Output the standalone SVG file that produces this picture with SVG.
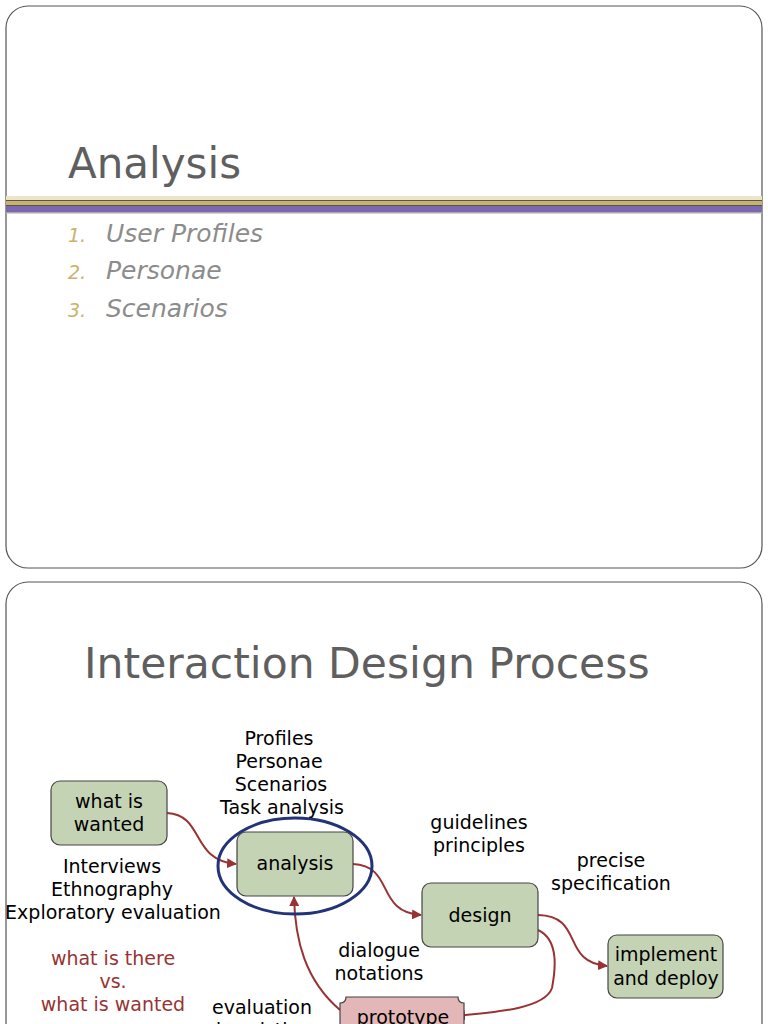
<svg xmlns="http://www.w3.org/2000/svg" width="768" height="1024" viewBox="0 0 768 1024">
<defs>
<style>
.slide{fill:#fff;stroke:#555;stroke-width:1.2}
.t{font-family:"DejaVu Sans",Verdana,sans-serif;font-size:19px;fill:#000;text-anchor:middle}
.red{fill:#993333}
.box{fill:#c5d3b5;stroke:#444;stroke-width:1.2}
.con{fill:none;stroke:#993333;stroke-width:2;marker-end:url(#a)}
.li{font-family:"DejaVu Sans",sans-serif;font-size:25px;font-style:italic;fill:#8c8c8c}
.num{font-family:"DejaVu Sans",sans-serif;font-size:19px;font-style:italic;fill:#c9b26a}
</style>
<marker id="a" viewBox="0 0 10 10" refX="9" refY="5" markerWidth="5" markerHeight="5" orient="auto"><path d="M0,0L10,5L0,10z" fill="#993333"/></marker>
</defs>
<rect width="768" height="1024" fill="#fff"/>
<rect class="slide" x="6" y="6" width="756" height="562" rx="22"/>
<rect class="slide" x="6" y="582" width="756" height="480" rx="22"/>
<g id="slide1">
<text x="68" y="178" font-family="DejaVu Sans,sans-serif" font-size="42" fill="#5f5f5f">Analysis</text>
<rect x="6" y="196" width="756" height="4" fill="#ece3c8"/>
<rect x="6" y="200" width="756" height="1" fill="#555"/>
<rect x="6" y="201" width="756" height="4" fill="#c9b26a"/>
<rect x="6" y="205" width="756" height="1" fill="#555"/>
<rect x="6" y="206" width="756" height="6" fill="#7b68b0"/>
<rect x="6" y="212" width="756" height="1.5" fill="#aaa"/>
<text class="num" x="68" y="242">1.</text><text class="li" x="106" y="242">User Profiles</text>
<text class="num" x="68" y="279">2.</text><text class="li" x="106" y="279">Personae</text>
<text class="num" x="68" y="317">3.</text><text class="li" x="106" y="317">Scenarios</text>
</g>
<text x="84" y="678" font-family="DejaVu Sans,sans-serif" font-size="42.5" fill="#5f5f5f">Interaction Design Process</text>
<g id="connectors">
<path class="con" d="M167,813 C205,815 190,860 236,864"/>
<path class="con" d="M353,864 C395,866 375,912 421,915"/>
<path class="con" d="M538,915 C585,916 560,962 607,966"/>
<path class="con" d="M538,930 C560,940 555,972 552,988 C545,1008 500,1012 456,1016"/>
<path class="con" d="M340,1010 C305,980 295,940 294,897"/>
</g>
<g id="wanted"><rect class="box" x="51" y="781" width="116" height="64" rx="9"/><text class="t" x="109" y="808">what is</text><text class="t" x="109" y="831">wanted</text></g>
<g id="analysis"><ellipse cx="295" cy="866" rx="77" ry="48" fill="none" stroke="#223377" stroke-width="3"/><rect class="box" x="237" y="832" width="116" height="64" rx="9"/><text class="t" x="295" y="870">analysis</text></g>
<g id="design"><rect class="box" x="422" y="883" width="116" height="64" rx="9"/><text class="t" x="480" y="922">design</text></g>
<g id="implement"><rect class="box" x="608" y="935" width="115" height="63" rx="9"/><text class="t" x="666" y="961">implement</text><text class="t" x="666" y="985">and deploy</text></g>
<g id="prototype"><path d="M346,997 H458 Q458,1003 464,1003 V1040 H340 V1003 Q346,1003 346,997z" fill="#e3b7b7" stroke="#444" stroke-width="1.2"/><text class="t" x="403" y="1024">prototype</text></g>
<g id="labels">
<text class="t" x="279" y="745">Profiles</text>
<text class="t" x="279" y="768">Personae</text>
<text class="t" x="281" y="791">Scenarios</text>
<text class="t" x="282" y="814">Task analysis</text>
<text class="t" x="112" y="873">Interviews</text>
<text class="t" x="112" y="896">Ethnography</text>
<text class="t" x="113" y="919">Exploratory evaluation</text>
<text class="t red" x="113" y="965">what is there</text>
<text class="t red" x="113" y="988">vs.</text>
<text class="t red" x="113" y="1011">what is wanted</text>
<text class="t" x="479" y="829">guidelines</text>
<text class="t" x="479" y="852">principles</text>
<text class="t" x="611" y="867">precise</text>
<text class="t" x="611" y="890">specification</text>
<text class="t" x="379" y="957">dialogue</text>
<text class="t" x="379" y="980">notations</text>
<text class="t" x="262" y="1014">evaluation</text>
<text class="t" x="262" y="1037">heuristics</text>
</g>
</svg>
